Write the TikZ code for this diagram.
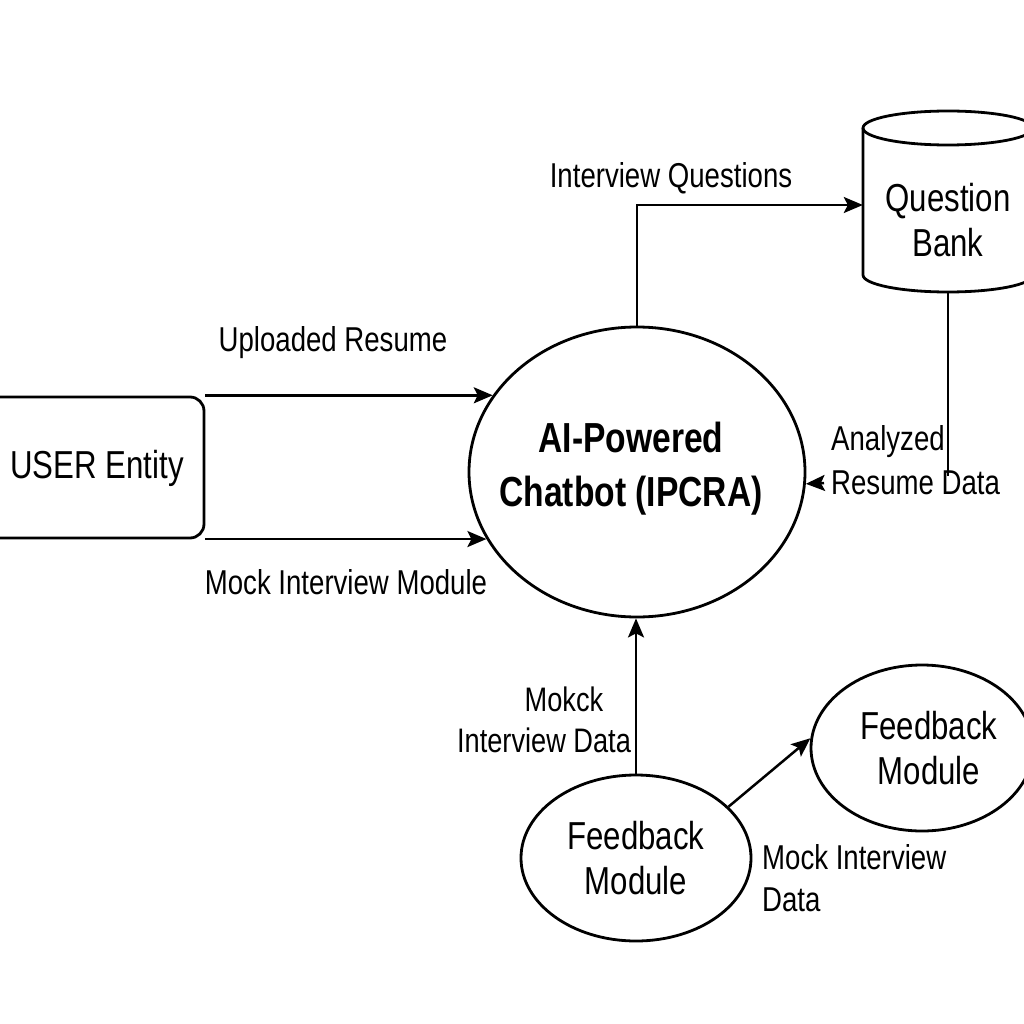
\documentclass[tikz,border=0pt]{standalone}
\usepackage{fontspec}
\setmainfont{Liberation Sans}[FakeStretch=0.8]
\usetikzlibrary{shapes.geometric,arrows.meta}
\begin{document}
\begin{tikzpicture}[x=1pt,y=-1pt,
  outl/.style={line width=2.8pt,draw=black},
  arr/.style={line width=2.5pt,-{Stealth[length=19pt,width=16pt,inset=4pt]}},
  plain/.style={line width=2.5pt},
  big/.style={font=\fontsize{39}{45}\selectfont,align=center},
  lbl/.style={font=\fontsize{34.5}{44}\selectfont,inner sep=0pt},
  procc/.style={ellipse,outl,inner sep=0pt}]
\fill[white] (0,0) rectangle (1024,1024);
\useasboundingbox (0,0) rectangle (1024,1024);
\clip (0,0) rectangle (1024,1024);

% nodes
\node[procc,minimum width=336pt,minimum height=290pt] (main) at (637,472) {};
\node[font=\bfseries\fontsize{42}{54}\selectfont,align=center] (maint) at (631,469)
      {AI-Powered\\Chatbot (IPCRA)};
\node[draw,outl,rounded corners=14pt,minimum width=224pt,minimum height=141pt,
      inner sep=0pt] (user) at (92,467.5) {};
\node[big,anchor=center] (usert) at (97,468) {USER Entity};

\node[minimum width=170pt,minimum height=174pt,inner sep=0pt] (qb) at (948,205) {};
\node[big] (qbt) at (948,220) {Question\\Bank};
\draw[outl] (863,128) -- (863,275) arc[start angle=180,end angle=0,x radius=85,y radius=17] -- (1033,128);
\draw[outl] (948,128) ellipse[x radius=85,y radius=17];

\node[procc,minimum width=230pt,minimum height=166pt] (fb1) at (636,858) {};
\node[big] (fb1t) at (636,858) {Feedback\\Module};
\node[procc,minimum width=222pt,minimum height=166pt] (fb2) at (922,748) {};
\node[big] (fb2t) at (929,748) {Feedback\\Module};

% connectors
\draw[arr] (main.152 -| user.east) -- (main.152);
\draw[arr] (main.204 -| user.east) -- (main.204);
\draw[arr] (main.north) |- (qb.west);
\coordinate (qbend) at (948,476);
\draw[plain] (qb.south) -- (qbend);
\coordinate (anstart) at (824,483);
\draw[arr] (anstart) -- (main.-4);
\draw[arr] (fb1.north) -- (fb1.north |- main.south);
\draw[arr] (fb1.29) -- (fb2.175);

% labels
\node[lbl] (l1) at (333,343) {Uploaded Resume};
\node[lbl] (l2) at (346,582) {Mock Interview Module};
\node[lbl] (l3) at (671,178) {Interview Questions};
\node[lbl,align=left,anchor=west] (l4) at (831,460) {Analyzed\\Resume Data};
\node[lbl,align=center,font=\fontsize{34}{41}\selectfont] (l5) at (544,720) {\hspace*{40pt}Mokck\\Interview Data};
\node[lbl,align=left,anchor=west,font=\fontsize{34.5}{42}\selectfont] (l6) at (762,878) {Mock Interview\\Data};
\end{tikzpicture}
\end{document}
